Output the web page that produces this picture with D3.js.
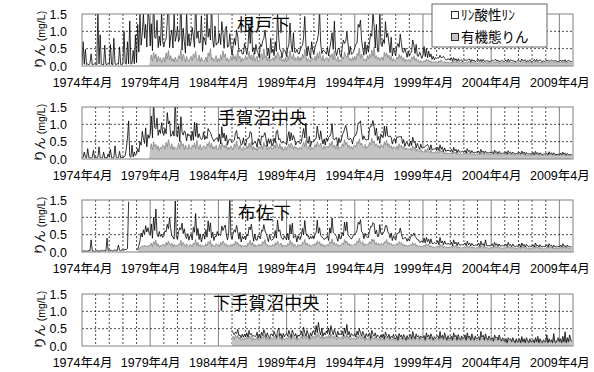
<!DOCTYPE html>
<html>
<head>
<meta charset="utf-8">
<script src="https://cdn.jsdelivr.net/npm/d3@7/dist/d3.min.js"></script>
<style>
  body { margin: 0; background: #fff; }
  text { fill: #000; }
</style>
</head>
<body>
<svg id="chart" width="594" height="372"></svg>
<script>
// Monthly phosphorus concentrations in units of 0.01 mg/L.
// Each row is one fiscal year, April through March.

const stationNames = ["根戸下", "手賀沼中央", "布佐下", "下手賀沼中央"];
const phosphateStart = ["1974-04", "1974-04", "1974-04", "1985-04"];
const organicStart = ["1979-04", "1979-04", "1978-06", "1985-04"];
const legendLabels = ["ﾘﾝ酸性ﾘﾝ", "有機態りん"];
const yTicks = [0, 0.5, 1.0, 1.5];
const xLabelYears = [1974, 1979, 1984, 1989, 1994, 1999, 2004, 2009];

const nedoPhosphate = [
  3,70,5,48,4,6,3,8,35,4,5,6,
  5,4,150,6,90,5,4,3,60,5,4,8,
  4,62,5,3,80,6,4,7,5,55,4,3,
  6,100,8,5,70,6,130,5,8,45,6,90,
  10,120,40,150,60,95,150,80,120,55,150,140,
  40,90,30,170,60,45,120,25,70,35,150,50,
  30,60,40,110,160,35,55,90,30,140,45,70,
  100,40,60,165,30,75,45,25,130,40,80,35,
  45,95,50,30,155,60,85,35,55,120,25,70,
  60,35,140,45,80,25,160,50,40,95,30,55,
  45,80,30,110,50,25,70,100,30,45,75,30,
  15,25,60,30,90,40,20,15,35,10,20,45,
  20,15,30,70,45,110,25,15,20,40,15,25,
  10,35,20,55,30,80,40,15,25,10,60,20,
  25,15,40,20,120,50,30,15,10,25,35,15,
  15,20,45,80,35,20,60,25,15,30,10,20,
  20,40,25,60,95,30,15,35,20,10,45,25,
  15,25,50,35,70,120,40,20,15,30,20,10,
  30,15,20,45,60,30,85,25,15,20,40,15,
  10,30,55,25,40,75,30,15,35,20,10,25,
  25,45,30,90,60,110,40,25,15,50,20,30,
  20,35,70,40,130,60,30,90,25,15,145,40,
  30,60,25,100,45,70,35,20,55,15,30,25,
  15,30,45,20,70,35,25,15,40,20,10,25,
  10,25,15,55,30,20,40,15,10,30,15,10,
  20,40,15,30,10,25,15,20,10,15,8,12,
  10,15,8,20,6,12,18,8,10,6,12,8,
  8,12,5,10,6,8,4,10,5,7,6,4,
  6,10,4,8,5,9,3,7,5,6,4,5,
  5,8,4,6,3,7,5,4,6,3,5,4,
  4,7,3,9,5,4,6,3,5,4,6,3,
  5,6,4,8,3,5,7,4,6,3,4,5,
  4,6,3,7,5,4,8,3,5,4,6,3,
  3,5,7,4,6,3,5,8,4,3,5,4,
  5,4,6,3,7,4,5,3,6,4,5,3,
  4,6,3,5,4,7,3,5,4,6,3,5
];
const nedoOrganic = [
  18,32,14,40,22,35,12,28,16,24,10,20,
  25,12,38,20,45,18,30,14,22,11,26,15,
  14,30,22,48,16,34,25,12,28,18,13,22,
  28,16,35,24,42,20,15,32,12,25,17,14,
  15,26,12,38,28,50,18,24,14,20,30,12,
  22,14,32,18,44,26,35,15,24,12,18,28,
  16,34,20,30,14,46,22,28,12,24,15,20,
  30,18,25,42,20,32,16,38,14,22,28,12,
  14,28,36,18,50,24,30,15,26,12,20,18,
  24,15,30,22,40,34,18,28,14,20,12,26,
  12,30,18,44,26,20,36,15,24,18,28,14,
  26,16,34,24,48,30,14,22,18,12,25,20,
  18,28,15,38,22,42,26,16,30,14,20,24,
  22,14,32,26,36,18,44,20,15,28,12,18,
  15,26,20,40,30,24,38,18,22,14,26,16,
  28,18,36,30,52,22,34,26,16,20,14,30,
  20,34,24,46,28,55,22,30,18,26,16,24,
  26,16,40,28,38,24,32,18,28,14,22,16,
  14,26,20,34,22,30,16,24,12,20,15,18,
  18,12,26,20,30,16,22,14,18,10,16,12,
  10,16,12,20,14,18,11,15,9,13,10,12,
  12,9,15,11,18,13,10,14,8,12,9,11,
  9,12,8,14,10,13,9,11,8,10,12,8,
  10,8,12,9,14,11,8,12,9,11,8,10,
  8,11,9,13,10,12,8,10,9,12,8,9,
  10,9,12,8,14,10,11,9,8,12,10,9,
  9,11,8,12,10,13,9,11,8,10,9,11,
  11,8,10,13,9,12,10,8,11,9,12,10,
  8,10,12,9,13,10,11,9,12,8,10,9,
  10,12,9,11,8,13,10,12,9,11,8,10,
  9,11,10,12,9,11,8,10,12,9,10,8
];

const tegaPhosphate = [
  3,4,20,5,3,30,4,3,3,5,25,3,
  4,3,5,35,4,3,4,20,3,4,3,15,
  5,28,4,3,4,38,5,3,4,22,3,5,
  4,6,10,30,60,110,8,5,40,6,20,10,
  15,30,20,50,40,80,60,45,90,35,70,60,
  40,80,35,120,55,45,90,30,60,40,75,35,
  30,60,25,100,45,70,35,25,55,30,150,40,
  30,50,20,70,40,25,55,35,20,45,25,40,
  25,40,20,60,35,50,25,45,20,30,25,40,
  20,35,15,50,30,45,20,30,15,25,20,35,
  20,30,15,45,25,35,20,25,15,20,30,15,
  15,25,10,40,30,20,35,15,10,20,25,10,
  10,20,30,15,45,25,15,10,20,15,10,25,
  15,10,25,35,20,40,15,10,25,15,20,10,
  10,20,15,30,45,25,15,20,10,25,15,10,
  15,25,35,20,30,15,40,20,10,15,25,15,
  10,20,30,40,25,50,20,15,25,10,15,20,
  20,15,25,45,30,20,35,25,15,20,10,25,
  15,30,20,35,50,25,15,30,20,10,25,15,
  20,25,40,30,55,35,25,15,30,20,15,25,
  25,35,30,60,45,70,30,20,35,15,25,20,
  20,40,55,35,65,40,30,45,20,25,15,30,
  25,30,45,25,40,30,20,35,25,15,20,25,
  15,25,35,20,30,25,15,20,10,15,20,10,
  10,20,15,25,20,15,10,15,12,8,15,10,
  10,15,8,18,10,12,8,15,10,8,12,10,
  8,12,6,15,8,10,6,12,8,6,10,8,
  6,10,5,12,7,8,5,10,6,5,8,6,
  5,8,4,10,6,7,5,8,5,4,7,5,
  5,7,4,9,5,6,4,8,5,4,6,5,
  4,6,3,8,5,5,4,7,4,3,6,4,
  4,6,3,7,4,5,3,6,4,3,5,4,
  3,5,3,6,4,5,3,5,4,3,5,3,
  3,5,2,6,3,4,3,5,3,2,4,3,
  3,4,2,5,3,4,2,5,3,2,4,3,
  2,4,2,5,3,4,2,4,3,2,3,2
];
const tegaOrganic = [
  30,44,26,50,36,42,28,38,24,34,30,40,
  38,28,48,34,56,40,30,44,26,36,32,28,
  34,46,30,52,38,44,26,40,32,28,42,30,
  28,40,34,46,30,54,36,28,42,26,34,38,
  36,30,44,38,50,32,46,28,36,30,40,26,
  30,42,28,48,36,40,32,44,26,34,28,38,
  32,26,44,34,52,38,28,40,30,24,36,30,
  28,38,30,46,34,50,26,36,28,32,24,34,
  36,30,42,28,48,36,40,26,34,30,38,28,
  30,40,32,50,38,30,44,28,36,24,32,36,
  26,36,44,32,46,40,28,38,30,34,26,32,
  34,28,40,48,36,54,32,30,40,26,34,30,
  30,42,34,50,40,36,46,32,28,38,30,36,
  36,32,46,38,52,34,40,30,42,28,36,32,
  32,44,36,56,42,48,34,40,30,36,28,38,
  40,34,50,44,58,40,46,36,32,42,30,36,
  36,48,40,60,46,52,38,44,34,40,30,42,
  38,32,50,40,54,36,44,32,38,28,36,34,
  30,38,28,44,34,40,30,36,26,32,28,30,
  26,32,24,38,28,34,22,30,24,20,28,22,
  22,18,28,20,32,24,18,26,16,20,17,22,
  16,22,18,26,20,24,15,20,14,18,15,17,
  15,18,14,22,16,20,13,17,14,15,13,16,
  14,17,13,20,15,18,12,16,13,14,12,15,
  13,16,12,19,14,17,12,15,12,14,11,14,
  13,15,12,18,13,16,11,15,12,13,11,13,
  12,15,11,17,13,15,11,14,12,12,10,13,
  12,14,11,17,12,15,10,14,11,12,10,12,
  11,14,10,16,12,14,10,13,11,11,10,12,
  11,13,10,16,11,14,10,13,10,11,9,11,
  10,13,10,15,11,13,9,12,10,11,9,11
];

const fusaPhosphate = [
  3,2,4,3,2,3,4,3,35,4,3,2,
  3,4,3,2,4,3,5,3,4,3,40,4,
  3,4,5,3,4,6,5,4,20,5,4,6,
  5,6,8,6,10,145,null,null,null,null,null,null,
  null,5,10,20,40,25,50,30,60,40,55,35,
  30,55,25,70,40,90,35,20,45,25,35,20,
  25,45,30,60,35,75,50,20,30,15,130,25,
  20,35,50,30,65,25,45,30,15,35,20,25,
  30,20,45,35,75,30,40,20,30,15,25,35,
  20,40,25,60,35,50,25,35,15,30,20,40,
  25,35,20,55,30,45,60,25,20,35,150,25,
  20,30,45,25,55,30,20,35,15,25,20,30,
  15,35,20,50,30,60,25,15,30,20,15,25,
  25,15,45,30,55,25,35,20,15,30,20,15,
  15,25,35,20,60,35,45,20,25,15,30,20,
  20,30,15,45,30,55,25,20,30,15,25,20,
  15,30,40,25,55,35,20,30,15,30,20,25,
  20,25,35,60,30,40,30,20,25,15,25,20,
  25,15,40,30,60,35,25,30,20,15,30,20,
  20,30,25,50,35,55,30,20,25,15,25,30,
  25,35,30,60,40,65,35,25,20,30,25,20,
  20,30,50,35,55,45,30,35,25,20,60,30,
  25,35,30,50,40,35,25,20,30,15,25,20,
  15,25,35,25,45,25,20,15,25,20,15,20,
  15,20,30,20,35,20,25,15,20,10,15,15,
  12,20,10,18,12,15,10,20,12,8,15,10,
  10,15,8,20,10,12,8,15,10,8,12,10,
  8,12,6,15,8,10,6,12,8,6,10,8,
  8,10,6,12,7,9,6,10,7,5,9,7,
  7,10,5,12,6,8,5,20,7,5,8,6,
  6,9,5,10,6,8,5,9,6,5,8,6,
  6,8,5,10,6,7,5,9,6,4,7,5,
  5,8,4,9,5,7,4,8,6,4,7,5,
  5,7,4,9,5,6,4,8,5,4,7,5,
  5,7,4,8,5,6,4,7,5,4,6,5,
  4,7,4,8,5,6,4,7,5,4,6,4
];
const fusaOrganic = [
  8,12,15,18,14,20,16,18,15,20,
  18,26,15,30,22,34,17,24,14,20,16,22,
  22,16,28,20,32,24,18,26,14,22,17,20,
  16,24,20,34,18,28,22,15,24,18,14,22,
  20,15,26,22,36,18,28,16,22,14,20,17,
  17,24,18,30,24,34,16,22,18,15,24,19,
  22,16,28,20,32,26,18,24,15,20,16,22,
  16,24,19,32,22,28,17,22,14,20,18,15,
  20,15,26,22,34,20,28,16,22,15,19,22,
  17,23,18,30,24,36,18,22,15,20,16,19,
  22,16,27,20,32,24,19,26,14,21,17,20,
  15,24,20,34,22,28,16,23,18,14,22,18,
  21,17,28,24,36,20,26,18,22,15,19,22,
  18,25,20,32,24,30,18,24,16,21,15,20,
  22,18,30,24,38,22,28,19,24,16,21,18,
  19,26,22,36,26,32,20,25,17,22,18,21,
  24,20,32,26,40,28,24,30,18,24,20,22,
  22,30,24,38,30,36,22,28,20,25,19,24,
  24,20,30,26,36,24,28,21,25,18,22,20,
  19,25,20,30,24,28,18,23,17,20,16,19,
  17,22,18,27,20,25,16,21,15,18,14,17,
  15,20,16,24,18,22,14,18,13,16,12,15,
  14,18,13,22,16,20,12,17,13,15,12,14,
  13,17,12,20,15,18,12,16,12,14,11,13,
  13,16,12,19,14,17,11,15,12,13,11,13,
  12,16,11,19,14,16,11,15,11,13,10,12,
  12,15,11,18,13,16,11,14,11,13,10,12,
  12,15,11,18,13,15,10,14,11,12,10,12,
  11,15,10,17,12,15,10,14,11,12,10,11,
  11,14,10,17,12,14,10,13,10,12,9,11,
  11,14,10,16,12,14,9,13,10,11,9,11,
  10,13,10,16,11,13,9,13,10,11,9,10
];

const shimoTegaPhosphate = [
  20,10,15,8,12,18,10,6,8,12,7,10,
  8,12,6,15,10,8,12,6,10,8,14,7,
  10,6,12,8,15,10,7,12,8,6,10,12,
  8,14,10,6,12,18,8,10,6,12,8,10,
  12,8,15,10,6,14,10,8,12,6,10,8,
  10,15,8,20,12,8,15,10,6,12,8,14,
  15,10,25,12,30,15,10,20,8,12,10,15,
  12,20,10,25,15,10,18,12,8,15,10,12,
  10,15,8,20,12,28,10,14,8,12,10,8,
  12,8,15,10,18,12,8,14,10,6,12,8,
  8,12,6,15,10,8,12,6,10,8,6,10,
  6,10,5,12,8,6,10,5,8,6,10,5,
  5,8,4,10,6,8,5,9,6,4,8,5,
  6,9,5,12,7,5,9,6,8,5,7,6,
  5,8,4,10,6,8,5,9,6,4,7,5,
  6,8,5,12,6,7,5,10,6,4,8,5,
  5,7,4,10,6,7,4,9,5,4,7,5,
  5,8,4,10,5,7,4,9,5,4,7,5,
  5,7,4,12,6,7,4,9,5,4,7,5,
  4,6,3,8,5,6,4,8,5,3,6,4,
  3,5,2,6,4,5,3,6,4,2,5,3,
  3,5,2,7,3,5,2,6,4,2,5,3,
  3,4,2,6,3,8,2,5,3,2,4,3,
  3,10,2,5,3,4,2,12,3,2,4,6,
  3,5,2,8,3,15,2,6,3,10,4,3
];
const shimoTegaOrganic = [
  22,28,18,32,24,30,20,26,16,22,18,24,
  18,26,20,30,22,28,16,24,18,20,26,16,
  24,18,28,22,32,26,18,26,20,16,24,22,
  20,28,22,18,30,34,20,26,16,24,18,22,
  24,20,30,24,18,32,26,20,24,16,22,20,
  22,28,20,34,26,20,30,24,16,26,20,28,
  28,22,34,26,38,28,22,32,20,26,22,28,
  24,32,22,34,28,22,30,26,18,28,22,24,
  22,28,20,32,24,34,22,28,18,24,22,20,
  24,18,28,22,32,26,20,28,22,16,24,20,
  20,26,16,30,24,20,26,18,22,20,16,22,
  18,24,16,28,22,18,24,16,20,18,24,16,
  16,22,14,26,20,24,16,24,20,14,22,16,
  20,24,16,30,22,16,26,20,22,16,22,18,
  18,22,14,28,20,24,16,26,20,14,20,16,
  20,22,16,30,18,24,16,28,20,14,22,16,
  16,22,14,28,20,24,14,24,18,14,22,16,
  18,24,14,28,18,22,14,26,18,14,22,16,
  16,20,14,30,20,24,14,26,18,14,22,16,
  14,18,12,24,18,20,14,24,16,12,18,14,
  10,16,8,18,14,16,10,18,12,8,16,10,
  10,16,8,20,10,16,8,18,12,8,16,10,
  10,14,8,18,10,20,8,16,10,8,14,10,
  10,22,8,16,10,14,8,24,10,8,14,18,
  10,16,8,20,10,26,8,18,10,22,14,10
];

const phosphateSeries = [nedoPhosphate, tegaPhosphate, fusaPhosphate, shimoTegaPhosphate];
const organicSeries = [nedoOrganic, tegaOrganic, fusaOrganic, shimoTegaOrganic];

// ---- layout ----
const svg = d3.select("#chart");
const plotLeft = 82, plotRight = 573, plotH = 52;
const panelTops = [14, 107, 200, 294];
const titleX = [237, 218, 238, 213];
const titleDy = [17, 17, 19, 15];
const latinFont = "'Liberation Sans', Arial, 'Noto Sans CJK JP', sans-serif";
const cjkFont = "'Noto Sans CJK JP', 'Liberation Sans', sans-serif";

const axisStart = new Date(1974, 3, 1);
const axisEnd = new Date(2010, 3, 1);
const x = d3.scaleTime().domain([axisStart, axisEnd]).range([plotLeft, plotRight]);

const parseYM = d3.timeParse("%Y-%m");
const monthsBetween = (a, b) => (b.getFullYear() - a.getFullYear()) * 12 + (b.getMonth() - a.getMonth());
const totalMonths = monthsBetween(axisStart, axisEnd);

function buildRows(k) {
  const pOff = monthsBetween(axisStart, parseYM(phosphateStart[k]));
  const oOff = monthsBetween(axisStart, parseYM(organicStart[k]));
  const rows = [];
  for (let m = 0; m < totalMonths; m++) {
    const pv = phosphateSeries[k][m - pOff];
    const ov = organicSeries[k][m - oOff];
    const p = pv == null ? null : pv / 100;
    const o = ov == null ? 0 : ov / 100;
    rows.push({ date: new Date(1974, 3 + m, 1), p, o, total: p == null ? null : p + o });
  }
  return rows;
}

const yearLines = d3.range(1975, 2010).map(yr => new Date(yr, 3, 1));
const isFifth = d => (d.getFullYear() - 1974) % 5 === 0;

stationNames.forEach((name, k) => {
  const top = panelTops[k];
  const y = d3.scaleLinear().domain([0, 1.5]).range([top + plotH, top]);
  const g = svg.append("g");
  const rows = buildRows(k);

  g.append("clipPath").attr("id", "clip" + k)
    .append("rect").attr("x", plotLeft).attr("y", top).attr("width", plotRight - plotLeft).attr("height", plotH);

  // grid: yearly dotted, every five years solid
  g.append("g").selectAll("line").data(yearLines).join("line")
    .attr("x1", d => x(d)).attr("x2", d => x(d))
    .attr("y1", top).attr("y2", top + plotH)
    .attr("stroke", d => isFifth(d) ? "#808080" : "#000")
    .attr("stroke-width", d => isFifth(d) ? 1 : 0.7)
    .attr("stroke-dasharray", d => isFifth(d) ? null : "2,2");
  g.append("g").selectAll("line").data(yTicks.filter(v => v > 0 && v < 1.5)).join("line")
    .attr("x1", plotLeft).attr("x2", plotRight)
    .attr("y1", d => y(d)).attr("y2", d => y(d))
    .attr("stroke", "#000").attr("stroke-width", 0.7).attr("stroke-dasharray", "2,2");

  const data = g.append("g").attr("clip-path", `url(#clip${k})`);
  const defined = d => d.p != null;

  data.append("path").datum(rows)
    .attr("fill", "#fff")
    .attr("d", d3.area().defined(defined).x(d => x(d.date)).y0(y(0)).y1(d => y(d.total)));
  data.append("path").datum(rows)
    .attr("fill", "#c4c4c4")
    .attr("d", d3.area().defined(defined).x(d => x(d.date)).y0(y(0)).y1(d => y(d.o)));
  data.append("path").datum(rows)
    .attr("fill", "none").attr("stroke", "#7a7a7a").attr("stroke-width", 0.7)
    .attr("d", d3.line().defined(d => defined(d) && d.o > 0).x(d => x(d.date)).y(d => y(d.o)));
  data.append("path").datum(rows)
    .attr("fill", "none").attr("stroke", "#000").attr("stroke-width", 0.8)
    .attr("d", d3.line().defined(defined).x(d => x(d.date)).y(d => y(d.total)));

  // frame
  g.append("rect").attr("x", plotLeft).attr("y", top)
    .attr("width", plotRight - plotLeft).attr("height", plotH)
    .attr("fill", "none").attr("stroke", "#808080").attr("stroke-width", 1);

  // axes
  const yAxis = g.append("g").attr("transform", `translate(${plotLeft},0)`)
    .call(d3.axisLeft(y).tickValues(yTicks).tickFormat(d3.format(".1f")).tickSize(0).tickPadding(15));
  yAxis.select(".domain").remove();
  yAxis.selectAll("text").attr("font-family", latinFont).attr("font-size", 12.5);

  const xAxis = g.append("g").attr("transform", `translate(0,${top + plotH})`)
    .call(d3.axisBottom(x)
      .tickValues(xLabelYears.map(yr => new Date(yr, 3, 1)))
      .tickFormat(d => `${d.getFullYear()}年${d.getMonth() + 1}月`)
      .tickSize(0).tickPadding(12));
  xAxis.select(".domain").remove();
  xAxis.selectAll("text").attr("font-family", latinFont).attr("font-size", 12.5);

  // y-axis title
  const yt = g.append("text")
    .attr("transform", `translate(45,${top + plotH / 2}) rotate(-90)`)
    .attr("text-anchor", "middle")
    .attr("font-family", cjkFont);
  yt.append("tspan").attr("font-size", 12.5).text("りん");
  yt.append("tspan").attr("font-size", 10.5).attr("font-family", latinFont).text(" (mg/L)");

  // station name
  g.append("text").attr("x", titleX[k]).attr("y", top + titleDy[k])
    .attr("font-family", cjkFont).attr("font-size", 17.5)
    .attr("letter-spacing", 0.3)
    .text(name);
});

// legend
const legend = svg.append("g");
legend.append("rect").attr("x", 432).attr("y", 4).attr("width", 115).attr("height", 43)
  .attr("fill", "#fff").attr("stroke", "#666").attr("stroke-width", 1);
const legendFill = ["#fff", "#c4c4c4"];
legendLabels.forEach((label, i) => {
  const cy = 15 + i * 22;
  legend.append("rect").attr("x", 451.5).attr("y", cy - 3.5).attr("width", 7).attr("height", 7)
    .attr("fill", legendFill[i]).attr("stroke", "#000").attr("stroke-width", 0.8);
  legend.append("text").attr("x", 461).attr("y", cy + 5)
    .attr("font-family", cjkFont).attr("font-size", 13.5).text(label);
});
</script>
</body>
</html>
